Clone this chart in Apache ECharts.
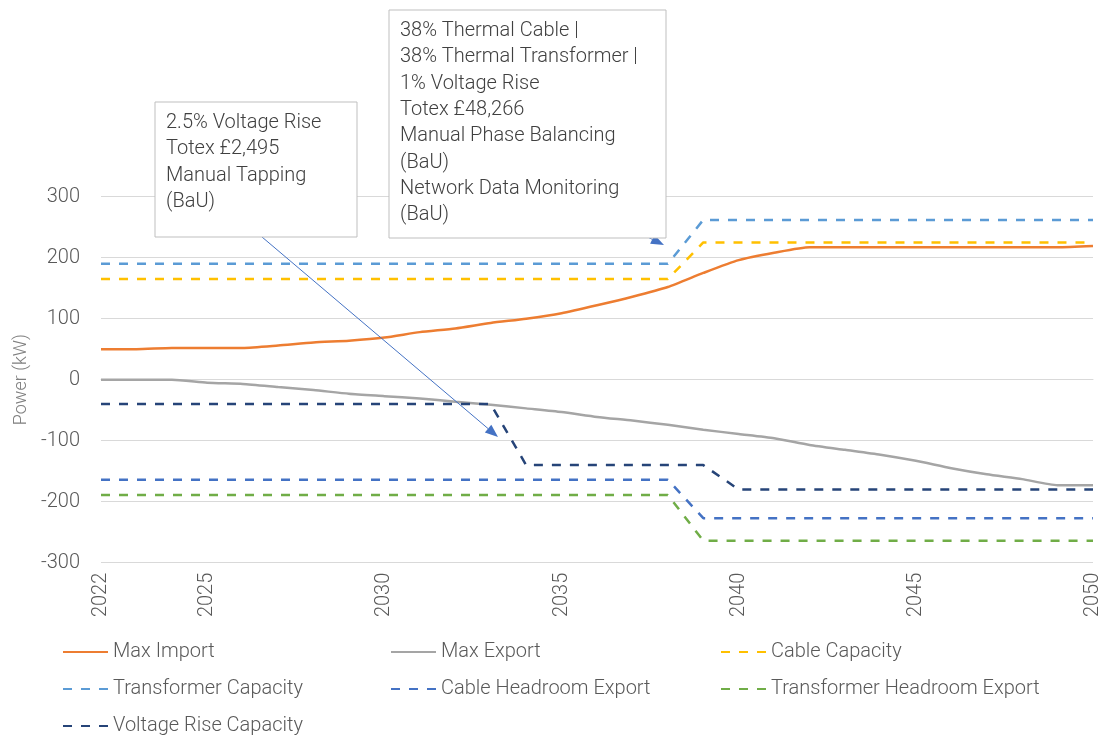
<!DOCTYPE html>
<html>
<head>
<meta charset="utf-8">
<script src="https://cdn.jsdelivr.net/npm/echarts@6/dist/echarts.min.js"></script>
<style>
  html, body { margin: 0; padding: 0; background: #fff; }
  #chart { width: 1104px; height: 739px; }
</style>
</head>
<body>
<div id="chart"></div>
<script>
// years on the x axis
const years = [];
for (let y = 2022; y <= 2050; y++) years.push(String(y));

// series values (kW), one per year 2022..2050
const maxImport = [50, 50, 52, 52, 52, 56, 61, 64, 69, 78, 84, 93, 100, 109, 122, 136, 152, 175, 196, 208, 217,
  217, 217, 217, 217, 217, 217, 217, 219];
const maxExport = [0, 0, 0, -5, -7, -12, -17, -23, -27, -31, -36, -41, -47, -53, -61, -67, -74, -82, -89, -96, -107,
  -115, -123, -133, -145, -155, -163, -173, -173];
const cableCapacity = [165, 165, 165, 165, 165, 165, 165, 165, 165, 165, 165, 165, 165, 165, 165, 165, 165,
  225, 225, 225, 225, 225, 225, 225, 225, 225, 225, 225, 225];
const transformerCapacity = [190, 190, 190, 190, 190, 190, 190, 190, 190, 190, 190, 190, 190, 190, 190, 190, 190,
  262, 262, 262, 262, 262, 262, 262, 262, 262, 262, 262, 262];
const cableHeadroomExport = [-164, -164, -164, -164, -164, -164, -164, -164, -164, -164, -164, -164, -164, -164, -164, -164, -164,
  -227, -227, -227, -227, -227, -227, -227, -227, -227, -227, -227, -227];
const transformerHeadroomExport = [-189, -189, -189, -189, -189, -189, -189, -189, -189, -189, -189, -189, -189, -189, -189, -189, -189,
  -264, -264, -264, -264, -264, -264, -264, -264, -264, -264, -264, -264];
const voltageRiseCapacity = [-40, -40, -40, -40, -40, -40, -40, -40, -40, -40, -40, -40,
  -140, -140, -140, -140, -140, -140, -180, -180, -180, -180, -180, -180, -180, -180, -180, -180, -180];

// annotation texts
const note1 = ['2.5% Voltage Rise', 'Totex £2,495', 'Manual Tapping', '(BaU)'];
const note2 = ['38% Thermal Cable |', '38% Thermal Transformer |', '1% Voltage Rise', 'Totex £48,266',
  'Manual Phase Balancing', '(BaU)', 'Network Data Monitoring', '(BaU)'];

const FONT = 'Roboto, "Open Sans", sans-serif';
const DASH = [9, 9];

function solid(name, data, color) {
  return { name, type: 'line', data, symbol: 'none', smooth: 0.2,
    lineStyle: { color, width: 2.5 }, itemStyle: { color } };
}
function dashed(name, data, color) {
  return { name, type: 'line', data, symbol: 'none',
    lineStyle: { color, width: 2.5, type: DASH }, itemStyle: { color } };
}

const legendBase = {
  orient: 'vertical', top: 642, padding: 0, itemWidth: 45, itemHeight: 14, itemGap: 17,
  itemStyle: { opacity: 0 },
  textStyle: { fontFamily: FONT, fontWeight: 300, fontSize: 20, lineHeight: 20, color: '#595959' }
};

// box + arrow graphics for the two call-outs
function arrow(x1, y1, x2, y2) {
  const a = Math.atan2(y2 - y1, x2 - x1);
  const L = 13, W = 5;
  const bx = x2 - L * Math.cos(a), by = y2 - L * Math.sin(a);
  return [
    { type: 'line', shape: { x1, y1, x2: bx, y2: by }, style: { stroke: '#4472C4', lineWidth: 1 }, z: 100 },
    { type: 'polygon', shape: { points: [[x2, y2],
      [bx + W * Math.sin(a), by - W * Math.cos(a)], [bx - W * Math.sin(a), by + W * Math.cos(a)]] },
      style: { fill: '#4472C4' }, z: 100 }
  ];
}
function box(x, y, w, h, lines) {
  return [
    { type: 'rect', shape: { x, y, width: w, height: h }, style: { fill: '#fff', stroke: '#BFBFBF', lineWidth: 1 }, z: 101 },
    { type: 'text', x: x + 11, y: y + 8, z: 102,
      style: { text: lines.join('\n'), font: '300 20px ' + FONT, fill: '#404040', lineHeight: 26.3 } }
  ];
}

const chart = echarts.init(document.getElementById('chart'));
chart.setOption({
  animation: false,
  grid: { left: 101, right: 11, top: 196.7, bottom: 176.3, containLabel: false },
  xAxis: {
    type: 'category', data: years, boundaryGap: false,
    axisLine: { show: true, lineStyle: { color: '#D9D9D9' } },
    axisTick: { show: false },
    axisLabel: {
      rotate: 90, fontFamily: FONT, fontWeight: 300, fontSize: 20, color: '#595959', margin: 10,
      interval: (i, v) => v === '2022' || Number(v) % 5 === 0
    }
  },
  yAxis: {
    type: 'value', min: -300, max: 300, interval: 100,
    name: 'Power (kW)', nameLocation: 'middle', nameGap: 69, nameRotate: 90,
    nameTextStyle: { fontFamily: FONT, fontWeight: 300, fontSize: 18, color: '#7F7F7F' },
    axisLine: { show: false }, axisTick: { show: false },
    axisLabel: { fontFamily: FONT, fontWeight: 300, fontSize: 20, color: '#595959', margin: 21 },
    splitLine: { lineStyle: { color: '#D9D9D9', width: 1 } }
  },
  legend: [
    Object.assign({ left: 62, data: ['Max Import', 'Transformer Capacity', 'Voltage Rise Capacity'] }, legendBase),
    Object.assign({ left: 390, data: ['Max Export', 'Cable Headroom Export'] }, legendBase),
    Object.assign({ left: 720, data: ['Cable Capacity', 'Transformer Headroom Export'] }, legendBase)
  ],
  series: [
    solid('Max Import', maxImport, '#ED7D31'),
    solid('Max Export', maxExport, '#A5A5A5'),
    dashed('Cable Capacity', cableCapacity, '#FFC000'),
    dashed('Transformer Capacity', transformerCapacity, '#5B9BD5'),
    dashed('Cable Headroom Export', cableHeadroomExport, '#4472C4'),
    dashed('Transformer Headroom Export', transformerHeadroomExport, '#70AD47'),
    dashed('Voltage Rise Capacity', voltageRiseCapacity, '#264478')
  ],
  graphic: [].concat(
    box(155, 102, 202, 135, note1),
    box(389, 10, 277, 228, note2),
    arrow(262, 237, 498, 437),
    arrow(598, 213, 664, 245)
  )
});
</script>
</body>
</html>
